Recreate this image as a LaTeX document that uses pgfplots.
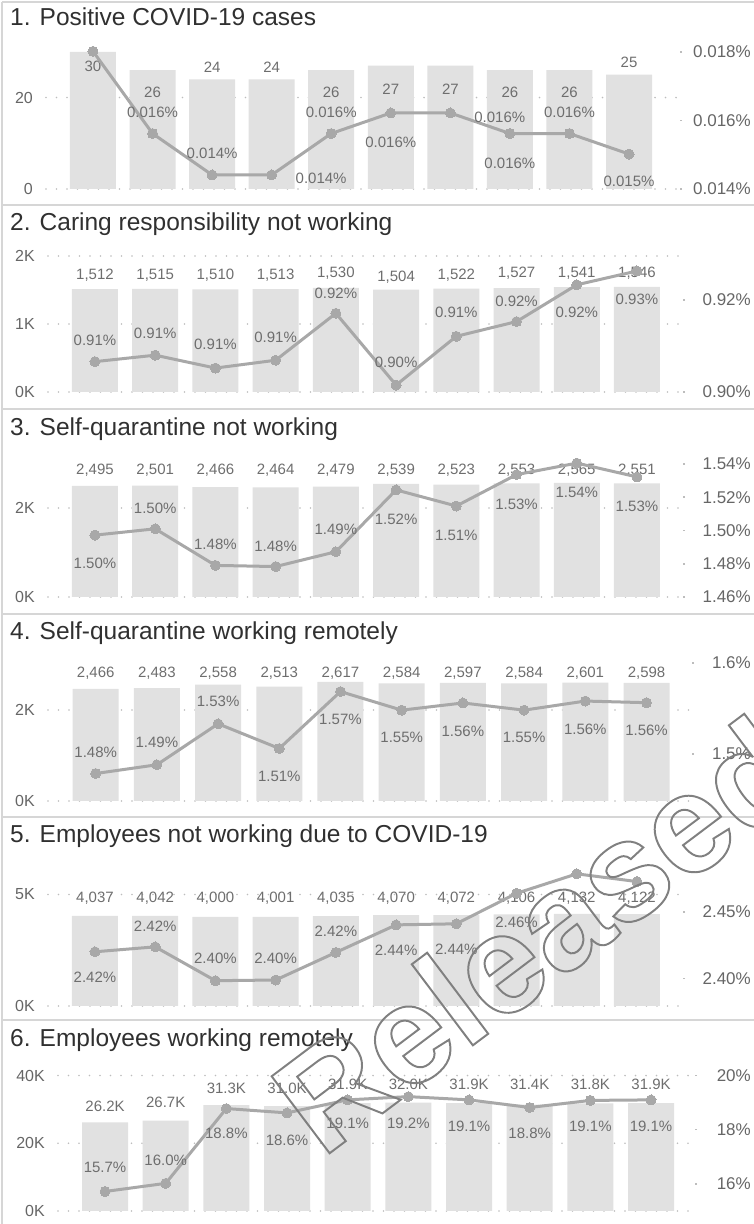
\documentclass[border=0pt]{standalone}
\usepackage{fontspec}
\setmainfont{Liberation Sans}
\newfontfamily\wmfont{Liberation Sans}[BoldFeatures={FakeBold=1.4}]
\usepackage{pgfplots}
\usepackage{pgfplotstable}
\pgfplotsset{compat=1.18}

\definecolor{titlec}{HTML}{303030}
\definecolor{tickc}{HTML}{666666}
\definecolor{labc}{HTML}{6E6E6E}
\definecolor{barc}{HTML}{E1E1E1}
\definecolor{linec}{HTML}{A8A8A8}
\definecolor{gridc}{HTML}{BDBDBD}
\definecolor{framec}{HTML}{D6D6D6}
\definecolor{wmc}{HTML}{808080}

\newcommand{\fs}[1]{\fontsize{#1}{#1}\selectfont}
% label helpers: x index, height above axis bottom (px), text
\newcommand{\bl}[3]{\node[font=\fs{15}, text=labc, inner sep=0pt, yshift=#2pt] at ({axis cs:#1,0}|-{rel axis cs:0,0}) {#3};}
\newcommand{\pl}[3]{\node[font=\fs{15}, text=labc, inner sep=0pt, yshift=#2pt] at ({axis cs:#1,0}|-{rel axis cs:0,0}) {#3};}

\pgfplotsset{
  base/.style={scale only axis, anchor=south west, xtick=\empty, axis line style={draw=none},
    clip=false, scaled y ticks=false},
  barax/.style={base, ymin=0, ymajorgrids, major tick length=0pt,
    grid style={gridc, line width=1.8pt, dash pattern=on 0pt off 10.5pt, line cap=round},
    yticklabel style={font=\fs{16}, text=tickc, anchor=east, inner sep=0pt, xshift=-13pt}},
  lineax/.style={base, axis y line*=right, ytick pos=right, tick align=outside,
    major tick length=2pt, ytick style={draw=gridc, line width=1.6pt},
    yticklabel style={font=\fs{17}, text=tickc, anchor=east, inner sep=0pt, xshift=#1}},
  bars/.style={ybar, bar width=46pt, fill=barc, draw=none},
  trend/.style={linec, line width=3pt, mark=*, mark size=5pt,
    mark options={fill=linec, draw=linec, line width=0pt}},
}

% i = period, n = count, p = percent
\pgfplotstableread{
i n p
0 30 0.01802
1 26 0.01562
2 24 0.01441
3 24 0.01441
4 26 0.01562
5 27 0.01622
6 27 0.01622
7 26 0.01562
8 26 0.01562
9 25 0.01502
}\tA
\pgfplotstableread{
i n p
0 1512 0.9066
1 1515 0.9080
2 1510 0.9052
3 1513 0.9069
4 1530 0.9171
5 1504 0.9015
6 1522 0.9121
7 1527 0.9153
8 1541 0.9233
9 1546 0.9263
}\tB
\pgfplotstableread{
i n p
0 2495 1.4972
1 2501 1.5010
2 2466 1.4790
3 2464 1.4783
4 2479 1.4872
5 2539 1.5244
6 2523 1.5147
7 2553 1.5336
8 2565 1.5405
9 2551 1.5322
}\tC
\pgfplotstableread{
i n p
0 2466 1.4786
1 2483 1.4882
2 2558 1.5332
3 2513 1.5061
4 2617 1.5686
5 2584 1.5482
6 2597 1.5561
7 2584 1.5482
8 2601 1.5582
9 2598 1.5564
}\tD
\pgfplotstableread{
i n p
0 4037 2.4200
1 4042 2.4237
2 4000 2.3983
3 4001 2.3988
4 4035 2.4195
5 4070 2.4402
6 4072 2.4410
7 4106 2.4639
8 4132 2.4785
9 4122 2.4727
}\tE
\pgfplotstableread{
i n p
0 26200 15.72
1 26700 16.02
2 31300 18.78
3 31000 18.62
4 31900 19.10
5 32000 19.22
6 31900 19.10
7 31400 18.82
8 31800 19.08
9 31900 19.10
}\tF

\begin{document}
\begin{tikzpicture}
\useasboundingbox (0,0) rectangle (754pt,1224pt);

\begin{scope}[x=1pt,y=1pt]
\draw[framec, line width=2pt] (2,0) -- (2,1222);
\foreach \yy in {1222,1019,815,610,407,204} {\draw[framec, line width=2pt] (2,\yy) -- (754,\yy);}
\foreach \yy/\tt in {1198/{1. Positive COVID-19 cases},
                     993/{2. Caring responsibility not working},
                     788/{3. Self-quarantine not working},
                     584/{4. Self-quarantine working remotely},
                     381/{5. Employees not working due to COVID-19},
                     177/{6. Employees working remotely}}
  {\node[anchor=base west, inner sep=0pt, font=\fs{24.5}, text=titlec] at (10,\yy) {\tt};}
\end{scope}

% ---- 1
\begin{axis}[barax, at={(46pt,1035pt)}, width=634pt, height=138pt, xmin=-0.789, xmax=9.856,
  ymax=30.2, ytick={0,20}, yticklabels={0,20}]
\addplot[bars] table[x=i,y=n] {\tA};
\bl{0}{123}{30}\bl{1}{97}{26}\bl{2}{122}{24}\bl{3}{122}{24}\bl{4}{97}{26}
\bl{5}{100}{27}\bl{6}{100}{27}\bl{7}{97}{26}\bl{8}{97}{26}\bl{9}{127}{25}
\end{axis}
\begin{axis}[lineax=69pt, at={(46pt,1035pt)}, width=634pt, height=138pt, xmin=-0.789, xmax=9.856,
  ymin=0.014, ymax=0.01803, ytick={0.014,0.016,0.018},
  yticklabels={0.014\%,0.016\%,0.018\%}, clip=true, clip mode=individual]
\addplot[trend] table[x=i,y=p] {\tA};
\pl{1}{77}{0.016\%}\pl{2}{36}{0.014\%}\pl{3.83}{11}{0.014\%}\pl{4}{77}{0.016\%}
\pl{5}{47}{0.016\%}\pl{6.83}{72}{0.016\%}\pl{7}{26}{0.016\%}\pl{8}{77}{0.016\%}\pl{9}{8}{0.015\%}
\end{axis}

% ---- 2
\begin{axis}[barax, at={(48pt,832pt)}, width=635pt, height=140pt, xmin=-0.780, xmax=9.764,
  ymax=2059, ytick={0,1000,2000}, yticklabels={0K,1K,2K}]
\addplot[bars] table[x=i,y=n] {\tB};
\bl{0}{117}{1,512}\bl{1}{117}{1,515}\bl{2}{117}{1,510}\bl{3}{117}{1,513}\bl{4}{119}{1,530}
\bl{5}{115}{1,504}\bl{6}{117}{1,522}\bl{7}{119}{1,527}\bl{8}{119}{1,541}\bl{9}{119}{1,546}
\end{axis}
\begin{axis}[lineax=66pt, at={(48pt,832pt)}, width=635pt, height=140pt, xmin=-0.780, xmax=9.764,
  ymin=0.90, ymax=0.93043, ytick={0.90,0.92}, yticklabels={0.90\%,0.92\%}]
\addplot[trend] table[x=i,y=p] {\tB};
\pl{0}{52}{0.91\%}\pl{1}{59}{0.91\%}\pl{2}{48}{0.91\%}\pl{3}{55}{0.91\%}\pl{4}{99}{0.92\%}
\pl{5}{30}{0.90\%}\pl{6}{80}{0.91\%}\pl{7}{91}{0.92\%}\pl{8}{80}{0.92\%}\pl{9}{93}{0.93\%}
\end{axis}

% ---- 3
\begin{axis}[barax, at={(48pt,627pt)}, width=635pt, height=145pt, xmin=-0.780, xmax=9.764,
  ymax=3258, ytick={0,2000}, yticklabels={0K,2K}]
\addplot[bars] table[x=i,y=n] {\tC};
\bl{0}{127}{2,495}\bl{1}{127}{2,501}\bl{2}{127}{2,466}\bl{3}{127}{2,464}\bl{4}{127}{2,479}
\bl{5}{127}{2,539}\bl{6}{127}{2,523}\bl{7}{127}{2,553}\bl{8}{127}{2,565}\bl{9}{127}{2,551}
\end{axis}
\begin{axis}[lineax=66pt, at={(48pt,627pt)}, width=635pt, height=145pt, xmin=-0.780, xmax=9.764,
  ymin=1.46, ymax=1.5472, ytick={1.46,1.48,1.50,1.52,1.54},
  yticklabels={1.46\%,1.48\%,1.50\%,1.52\%,1.54\%}]
\addplot[trend] table[x=i,y=p] {\tC};
\pl{0}{34}{1.50\%}\pl{1}{89}{1.50\%}\pl{2}{53}{1.48\%}\pl{3}{51}{1.48\%}\pl{4}{68}{1.49\%}
\pl{5}{78}{1.52\%}\pl{6}{62}{1.51\%}\pl{7}{93}{1.53\%}\pl{8}{105}{1.54\%}\pl{9}{91}{1.53\%}
\end{axis}

% ---- 4
\begin{axis}[barax, at={(48pt,423pt)}, width=644pt, height=146pt, xmin=-0.779, xmax=9.743,
  ymax=3209, ytick={0,2000}, yticklabels={0K,2K}]
\addplot[bars] table[x=i,y=n] {\tD};
\bl{0}{128}{2,466}\bl{1}{128}{2,483}\bl{2}{128}{2,558}\bl{3}{128}{2,513}\bl{4}{128}{2,617}
\bl{5}{128}{2,584}\bl{6}{128}{2,597}\bl{7}{128}{2,584}\bl{8}{128}{2,601}\bl{9}{128}{2,598}
\end{axis}
\begin{axis}[lineax=57pt, at={(48pt,423pt)}, width=644pt, height=146pt, xmin=-0.779, xmax=9.743,
  ymin=1.4484, ymax=1.6088, ytick={1.5,1.6}, yticklabels={1.5\%,1.6\%}]
\addplot[trend] table[x=i,y=p] {\tD};
\pl{0}{49}{1.48\%}\pl{1}{59}{1.49\%}\pl{2}{100}{1.53\%}\pl{3}{25}{1.51\%}\pl{4}{82}{1.57\%}
\pl{5}{64}{1.55\%}\pl{6}{70}{1.56\%}\pl{7}{64}{1.55\%}\pl{8}{72}{1.56\%}\pl{9}{71}{1.56\%}
\end{axis}

% ---- 5
\begin{axis}[barax, at={(48pt,218pt)}, width=635pt, height=146pt, xmin=-0.780, xmax=9.764,
  ymax=6547, ytick={0,5000}, yticklabels={0K,5K}]
\addplot[bars] table[x=i,y=n] {\tE};
\bl{0}{108}{4,037}\bl{1}{108}{4,042}\bl{2}{108}{4,000}\bl{3}{108}{4,001}\bl{4}{108}{4,035}
\bl{5}{108}{4,070}\bl{6}{108}{4,072}\bl{7}{108}{4,106}\bl{8}{108}{4,132}\bl{9}{108}{4,122}
\end{axis}
\begin{axis}[lineax=66pt, at={(48pt,218pt)}, width=635pt, height=146pt, xmin=-0.780, xmax=9.764,
  ymin=2.3793, ymax=2.4889, ytick={2.40,2.45}, yticklabels={2.40\%,2.45\%}]
\addplot[trend] table[x=i,y=p] {\tE};
\pl{0}{29}{2.42\%}\pl{1}{80}{2.42\%}\pl{2}{48}{2.40\%}\pl{3}{48}{2.40\%}
\pl{4}{75}{2.42\%}\pl{5}{56}{2.44\%}\pl{6}{57}{2.44\%}\pl{7}{84}{2.46\%}
\end{axis}

% ---- 6
\begin{axis}[barax, at={(58pt,13pt)}, width=637pt, height=145pt, xmin=-0.775, xmax=9.725,
  ymax=42836, ytick={0,20000,40000}, yticklabels={0K,20K,40K}]
\addplot[bars] table[x=i,y=n] {\tF};
\bl{0}{105}{26.2K}\bl{1}{109}{26.7K}\bl{2}{123}{31.3K}\bl{3}{123}{31.0K}\bl{4}{127}{31.9K}
\bl{5}{127}{32.0K}\bl{6}{127}{31.9K}\bl{7}{127}{31.4K}\bl{8}{127}{31.8K}\bl{9}{127}{31.9K}
\end{axis}
\begin{axis}[lineax=54pt, at={(58pt,13pt)}, width=637pt, height=145pt, xmin=-0.775, xmax=9.725,
  ymin=15.0, ymax=20.35, ytick={16,18,20}, yticklabels={16\%,18\%,20\%}]
\addplot[trend] table[x=i,y=p] {\tF};
\pl{0}{44}{15.7\%}\pl{1}{51}{16.0\%}\pl{2}{78}{18.8\%}\pl{3}{71}{18.6\%}\pl{4}{88}{19.1\%}
\pl{5}{88}{19.2\%}\pl{6}{85}{19.1\%}\pl{7}{78}{18.8\%}\pl{8}{85}{19.1\%}\pl{9}{85}{19.1\%}
\end{axis}

% watermark: stroked outline only (fake-bold stroke, fill made transparent)
\begin{scope}[x=1pt,y=1pt]
\node[rotate=37, anchor=base west, inner sep=0pt, fill opacity=0, text=wmc,
  font=\wmfont\bfseries\fs{140}] at (322,65) {Released};
\end{scope}
\end{tikzpicture}
\end{document}
